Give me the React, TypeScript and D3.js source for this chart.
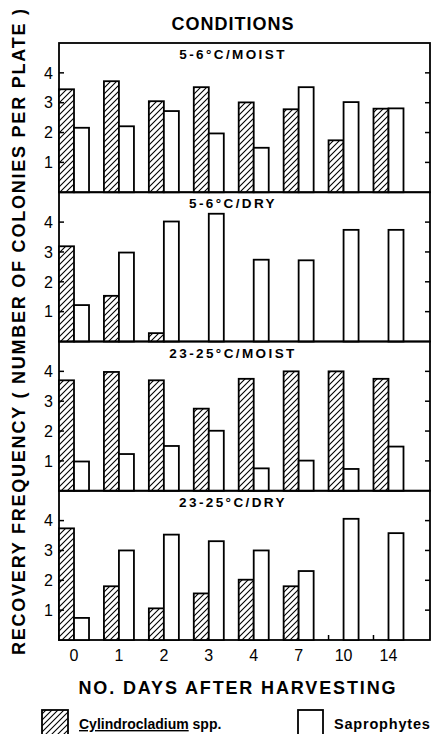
import React, { useRef, useEffect } from "react";
import * as d3 from "d3";

const days = ["0", "1", "2", "3", "4", "7", "10", "14"];
const conditions = ["5-6°C/MOIST", "5-6°C/DRY", "23-25°C/MOIST", "23-25°C/DRY"];

// Cylindrocladium spp. (hatched) and saprophytes (open), per condition
const cylColdMoist = [3.45, 3.72, 3.05, 3.52, 3.01, 2.78, 1.74, 2.8];
const sapColdMoist = [2.16, 2.21, 2.72, 1.97, 1.49, 3.52, 3.02, 2.81];
const cylColdDry = [3.19, 1.53, 0.28, 0, 0, 0, 0, 0];
const sapColdDry = [1.22, 2.98, 4.02, 4.28, 2.74, 2.72, 3.74, 3.74];
const cylWarmMoist = [3.7, 3.98, 3.7, 2.75, 3.75, 4.0, 4.0, 3.75];
const sapWarmMoist = [0.98, 1.23, 1.5, 2.01, 0.75, 1.01, 0.73, 1.48];
const cylWarmDry = [3.74, 1.8, 1.06, 1.56, 2.02, 1.8, 0, 0];
const sapWarmDry = [0.74, 3.0, 3.53, 3.31, 3.0, 2.31, 4.06, 3.58];

const yTicks = [1, 2, 3, 4];
const seriesKeys = ["cyl", "sap"];

function App() {
  const svgRef = useRef<SVGSVGElement>(null);

  useEffect(() => {
    const width = 436;
    const height = 734;
    const left = 59;
    const right = 430;
    const top = 43;
    const panelH = 149.25;
    const font = "'Liberation Sans', Arial, Helvetica, sans-serif";

    const panels = [
      { title: conditions[0], cyl: cylColdMoist, sap: sapColdMoist },
      { title: conditions[1], cyl: cylColdDry, sap: sapColdDry },
      { title: conditions[2], cyl: cylWarmMoist, sap: sapWarmMoist },
      { title: conditions[3], cyl: cylWarmDry, sap: sapWarmDry },
    ];

    const svg = d3.select(svgRef.current)
      .attr("width", width)
      .attr("height", height);
    svg.selectAll("*").remove();

    // hatch pattern
    const defs = svg.append("defs");
    const pat = defs.append("pattern")
      .attr("id", "hatch")
      .attr("patternUnits", "userSpaceOnUse")
      .attr("width", 6)
      .attr("height", 6);
    pat.append("rect").attr("width", 6).attr("height", 6).attr("fill", "white");
    pat.append("path")
      .attr("d", "M-1,1 l2,-2 M0,6 l6,-6 M5,7 l2,-2")
      .attr("stroke", "black")
      .attr("stroke-width", 1.1);

    const x = d3.scaleBand<string>()
      .domain(days)
      .range([left, 403.5])
      .paddingInner(0.332)
      .paddingOuter(0);

    const xs = d3.scaleBand<string>()
      .domain(seriesKeys)
      .range([0, x.bandwidth()]);

    panels.forEach((p, i) => {
      const y0 = top + i * panelH;
      const y = d3.scaleLinear().domain([0, 5]).range([y0 + panelH, y0]);
      const g = svg.append("g");

      // panel frame
      g.append("rect")
        .attr("x", left)
        .attr("y", y0)
        .attr("width", right - left)
        .attr("height", panelH)
        .attr("fill", "none")
        .attr("stroke", "black")
        .attr("stroke-width", 1.8);

      g.append("text")
        .attr("x", 233)
        .attr("y", y0 + 16)
        .attr("text-anchor", "middle")
        .attr("font-family", font)
        .attr("font-weight", "bold")
        .attr("font-size", 13.5)
        .attr("letter-spacing", 2.4)
        .text(p.title);

      // bars
      const rows = days.map((d, k) => ({ day: d, cyl: p.cyl[k], sap: p.sap[k] }));
      rows.forEach((r) => {
        seriesKeys.forEach((s) => {
          const v = (r as any)[s] as number;
          if (v <= 0) return;
          g.append("rect")
            .attr("x", (x(r.day) ?? 0) + (xs(s) ?? 0))
            .attr("y", y(v))
            .attr("width", xs.bandwidth())
            .attr("height", y(0) - y(v))
            .attr("fill", s === "cyl" ? "url(#hatch)" : "white")
            .attr("stroke", "black")
            .attr("stroke-width", 1.8);
        });
      });

      // y ticks, inward on both sides
      yTicks.forEach((t) => {
        g.append("line")
          .attr("x1", left).attr("x2", left + 5)
          .attr("y1", y(t)).attr("y2", y(t))
          .attr("stroke", "black").attr("stroke-width", 1.5);
        g.append("line")
          .attr("x1", right - 5).attr("x2", right)
          .attr("y1", y(t)).attr("y2", y(t))
          .attr("stroke", "black").attr("stroke-width", 1.5);
        g.append("text")
          .attr("x", left - 6)
          .attr("y", y(t))
          .attr("dy", "0.36em")
          .attr("text-anchor", "end")
          .attr("font-family", font)
          .attr("font-size", 16)
          .text(t);
      });
    });

    // bottom axis
    const base = top + 4 * panelH;
    days.forEach((d) => {
      svg.append("line")
        .attr("x1", x(d) ?? 0).attr("x2", x(d) ?? 0)
        .attr("y1", base).attr("y2", base - 5)
        .attr("stroke", "black").attr("stroke-width", 1.5);
      svg.append("text")
        .attr("x", (x(d) ?? 0) + x.bandwidth() / 2)
        .attr("y", base + 21)
        .attr("text-anchor", "middle")
        .attr("font-family", font)
        .attr("font-size", 16)
        .text(d);
    });

    svg.append("text")
      .attr("x", 233)
      .attr("y", 29.5)
      .attr("text-anchor", "middle")
      .attr("font-family", font)
      .attr("font-weight", "bold")
      .attr("font-size", 18)
      .attr("letter-spacing", 1)
      .text("CONDITIONS");

    svg.append("text")
      .attr("x", 237)
      .attr("y", 694)
      .attr("text-anchor", "middle")
      .attr("font-family", font)
      .attr("font-weight", "bold")
      .attr("font-size", 18)
      .attr("textLength", 317)
      .attr("lengthAdjust", "spacing")
      .text("NO. DAYS AFTER HARVESTING");

    svg.append("text")
      .attr("transform", "rotate(-90)")
      .attr("x", -332)
      .attr("y", 25)
      .attr("text-anchor", "middle")
      .attr("font-family", font)
      .attr("font-weight", "bold")
      .attr("font-size", 18)
      .attr("textLength", 646)
      .attr("lengthAdjust", "spacing")
      .text("RECOVERY FREQUENCY ( NUMBER OF COLONIES PER PLATE )");

    // legend
    svg.append("rect")
      .attr("x", 42).attr("y", 710).attr("width", 26).attr("height", 30)
      .attr("fill", "url(#hatch)").attr("stroke", "black").attr("stroke-width", 1.8);
    const lt = svg.append("text")
      .attr("x", 79).attr("y", 729)
      .attr("font-family", font)
      .attr("font-weight", "bold")
      .attr("font-size", 14);
    lt.append("tspan").attr("text-decoration", "underline").text("Cylindrocladium");
    lt.append("tspan").text(" spp.");

    svg.append("rect")
      .attr("x", 298).attr("y", 710).attr("width", 25).attr("height", 30)
      .attr("fill", "white").attr("stroke", "black").attr("stroke-width", 1.8);
    svg.append("text")
      .attr("x", 334).attr("y", 729)
      .attr("font-family", font)
      .attr("font-weight", "bold")
      .attr("font-size", 14.5)
      .attr("letter-spacing", 0.8)
      .text("Saprophytes");
  }, []);

  return (
    <svg
      ref={svgRef}
      style={{ position: "absolute", left: 0, top: 0, background: "white" }}
    ></svg>
  );
}

export default App;
